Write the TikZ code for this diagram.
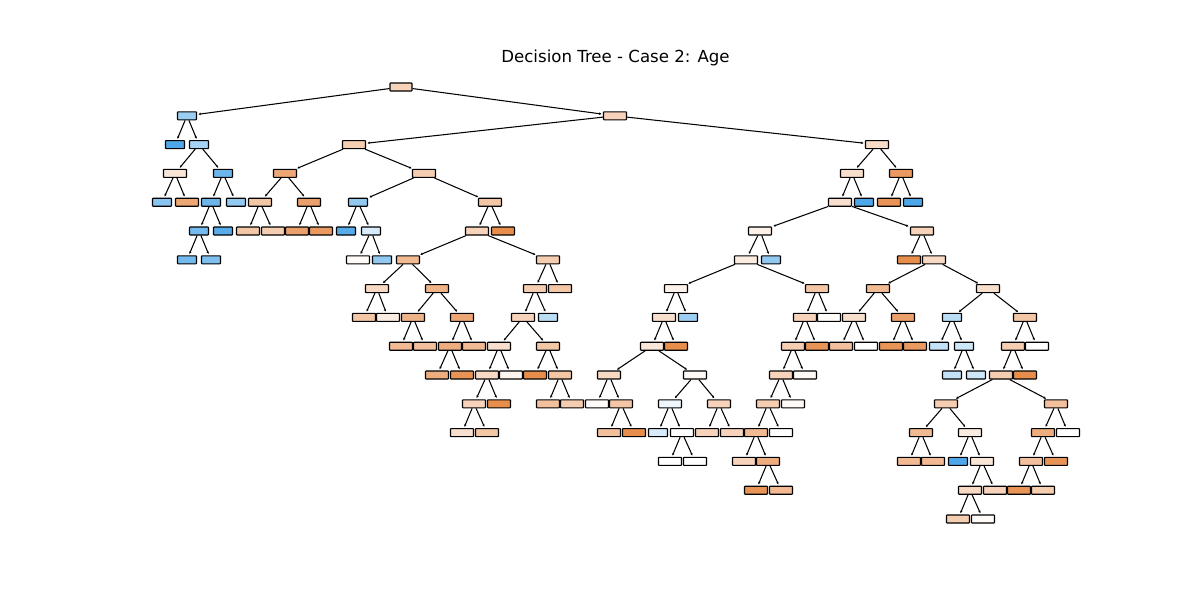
\documentclass[tikz,border=0pt]{standalone}
\usepackage{fontspec}
\setmainfont{DejaVu Sans}
\usetikzlibrary{arrows.meta}
\definecolor{cor}{RGB}{229,129,57}
\definecolor{cbl}{RGB}{57,157,229}
\begin{document}
\begin{tikzpicture}[x=1pt,y=-1pt,
  nd/.style={draw=black, line width=1.1pt, rounded corners=0.6pt, minimum height=8pt, inner sep=0pt},
  ed/.style={line width=1.05pt, -{Stealth[length=2.4pt,width=2.4pt]}, shorten >=1.5pt}]
\useasboundingbox (0,0) rectangle (1200,600);
\fill[white] (0,0) rectangle (1200,600);
\node[font=\fontsize{16.6}{20}\selectfont] (title) at (615.5,58) {Decision Tree - Case 2: Age};
% tree nodes: x position / depth / fill / width
\foreach \x/\l/\c/\w in {
  401/0/cor!35/22,
  187/1/cbl!50/19, 615/1/cor!35/23,
  175/2/cbl!90/19, 199/2/cbl!45/19, 354/2/cor!40/23, 877/2/cor!28/23,
  175/3/cor!20/23, 223/3/cbl!75/19, 285/3/cor!70/23, 424/3/cor!40/23, 852/3/cor!25/23, 901/3/cor!80/23,
  162/4/cbl!60/19, 187/4/cor!70/23, 211/4/cbl!75/19, 236/4/cbl!55/19, 260/4/cor!45/23, 309/4/cor!75/23,
  358/4/cbl!55/19, 490/4/cor!45/23, 840/4/cor!25/23, 864/4/cbl!90/19, 889/4/cor!85/23, 913/4/cbl!90/19,
  199/5/cbl!70/19, 223/5/cbl!85/19, 248/5/cor!45/23, 273/5/cor!40/23, 297/5/cor!75/23, 321/5/cor!80/23,
  346/5/cbl!85/19, 371/5/cbl!20/19, 477/5/cor!35/23, 503/5/cor!90/23, 760/5/cor!12/23, 922/5/cor!35/23,
  187/6/cbl!70/19, 211/6/cbl!65/19, 358/6/cor!3/23, 382/6/cbl!55/19, 408/6/cor!55/23, 548/6/cor!40/23,
  746/6/cor!15/23, 771/6/cbl!55/19, 909/6/cor!90/23, 934/6/cor!30/23,
  377/7/cor!30/23, 437/7/cor!60/23, 535/7/cor!40/23, 560/7/cor!45/23, 676/7/cor!10/23, 817/7/cor!45/23,
  878/7/cor!55/23, 988/7/cor!25/23,
  364/8/cor!45/23, 388/8/cor!15/23, 413/8/cor!60/23, 462/8/cor!70/23, 523/8/cor!35/23, 548/8/cbl!35/19,
  664/8/cor!25/23, 688/8/cbl!50/19, 805/8/cor!35/23, 829/8/cor!3/23, 854/8/cor!25/23, 903/8/cor!75/23,
  952/8/cbl!35/19, 1025/8/cor!45/23,
  401/9/cor!55/23, 425/9/cor!50/23, 450/9/cor!65/23, 474/9/cor!55/23, 499/9/cor!25/23, 548/9/cor!45/23,
  652/9/cor!20/23, 676/9/cor!90/23, 793/9/cor!40/23, 817/9/cor!85/23, 841/9/cor!50/23, 866/9/cor!0/23,
  891/9/cor!85/23, 915/9/cor!80/23, 939/9/cbl!30/19, 964/9/cbl!25/19, 1013/9/cor!40/23, 1037/9/cor!0/23,
  437/10/cor!65/23, 462/10/cor!85/23, 487/10/cor!30/23, 511/10/cor!8/23, 535/10/cor!90/23, 560/10/cor!45/23,
  609/10/cor!30/23, 695/10/cor!5/23, 781/10/cor!35/23, 805/10/cor!5/23, 952/10/cbl!30/19, 976/10/cbl!25/19,
  1001/10/cor!40/23, 1025/10/cor!90/23,
  474/11/cor!35/23, 499/11/cor!90/23, 548/11/cor!50/23, 572/11/cor!40/23, 597/11/cor!3/23, 621/11/cor!45/23,
  670/11/cbl!8/23, 719/11/cor!35/23, 768/11/cor!40/23, 793/11/cor!5/23, 946/11/cor!40/23, 1056/11/cor!50/23,
  462/12/cor!25/23, 487/12/cor!45/23, 609/12/cor!50/23, 634/12/cor!90/23, 658/12/cbl!20/19, 682/12/cor!0/23,
  707/12/cor!35/23, 732/12/cor!35/23, 756/12/cor!55/23, 781/12/cor!0/23, 921/12/cor!55/23, 970/12/cor!15/23,
  1043/12/cor!65/23, 1068/12/cor!0/23,
  670/13/cor!0/23, 695/13/cor!0/23, 744/13/cor!35/23, 768/13/cor!65/23, 909/13/cor!55/23, 933/13/cor!55/23,
  958/13/cbl!90/19, 982/13/cor!20/23, 1031/13/cor!50/23, 1056/13/cor!85/23,
  756/14/cor!85/23, 781/14/cor!55/23, 970/14/cor!30/23, 995/14/cor!35/23, 1019/14/cor!85/23, 1043/14/cor!40/23,
  958/15/cor!40/23, 983/15/cor!3/23}
  \node[nd, fill=\c, minimum width=\w pt] (n\x L\l) at (\x,{87+28.8*\l}) {};
% parent -> child connectors
\foreach \a/\b in {
  401L0/187L1, 401L0/615L1,
  187L1/175L2, 187L1/199L2,
  199L2/175L3, 199L2/223L3,
  175L3/162L4, 175L3/187L4,
  223L3/211L4, 223L3/236L4,
  211L4/199L5, 211L4/223L5,
  199L5/187L6, 199L5/211L6,
  615L1/354L2, 615L1/877L2,
  354L2/285L3, 354L2/424L3,
  285L3/260L4, 285L3/309L4,
  260L4/248L5, 260L4/273L5,
  309L4/297L5, 309L4/321L5,
  424L3/358L4, 424L3/490L4,
  358L4/346L5, 358L4/371L5,
  371L5/358L6, 371L5/382L6,
  490L4/477L5, 490L4/503L5,
  477L5/408L6, 477L5/548L6,
  408L6/377L7, 408L6/437L7,
  377L7/364L8, 377L7/388L8,
  437L7/413L8, 437L7/462L8,
  413L8/401L9, 413L8/425L9,
  462L8/450L9, 462L8/474L9,
  450L9/437L10, 450L9/462L10,
  548L6/535L7, 548L6/560L7,
  535L7/523L8, 535L7/548L8,
  523L8/499L9, 523L8/548L9,
  499L9/487L10, 499L9/511L10,
  487L10/474L11, 487L10/499L11,
  474L11/462L12, 474L11/487L12,
  548L9/535L10, 548L9/560L10,
  560L10/548L11, 560L10/572L11,
  877L2/852L3, 877L2/901L3,
  852L3/840L4, 852L3/864L4,
  901L3/889L4, 901L3/913L4,
  840L4/760L5, 840L4/922L5,
  760L5/746L6, 760L5/771L6,
  746L6/676L7, 746L6/817L7,
  676L7/664L8, 676L7/688L8,
  664L8/652L9, 664L8/676L9,
  652L9/609L10, 652L9/695L10,
  609L10/597L11, 609L10/621L11,
  621L11/609L12, 621L11/634L12,
  695L10/670L11, 695L10/719L11,
  670L11/658L12, 670L11/682L12,
  682L12/670L13, 682L12/695L13,
  719L11/707L12, 719L11/732L12,
  817L7/805L8, 817L7/829L8,
  805L8/793L9, 805L8/817L9,
  793L9/781L10, 793L9/805L10,
  781L10/768L11, 781L10/793L11,
  768L11/756L12, 768L11/781L12,
  756L12/744L13, 756L12/768L13,
  768L13/756L14, 768L13/781L14,
  922L5/909L6, 922L5/934L6,
  934L6/878L7, 934L6/988L7,
  878L7/854L8, 878L7/903L8,
  854L8/841L9, 854L8/866L9,
  903L8/891L9, 903L8/915L9,
  988L7/952L8, 988L7/1025L8,
  952L8/939L9, 952L8/964L9,
  964L9/952L10, 964L9/976L10,
  1025L8/1013L9, 1025L8/1037L9,
  1013L9/1001L10, 1013L9/1025L10,
  1001L10/946L11, 1001L10/1056L11,
  946L11/921L12, 946L11/970L12,
  921L12/909L13, 921L12/933L13,
  970L12/958L13, 970L12/982L13,
  982L13/970L14, 982L13/995L14,
  970L14/958L15, 970L14/983L15,
  1056L11/1043L12, 1056L11/1068L12,
  1043L12/1031L13, 1043L12/1056L13,
  1031L13/1019L14, 1031L13/1043L14}
  \draw[ed] (n\a) -- (n\b);
\end{tikzpicture}
\end{document}
